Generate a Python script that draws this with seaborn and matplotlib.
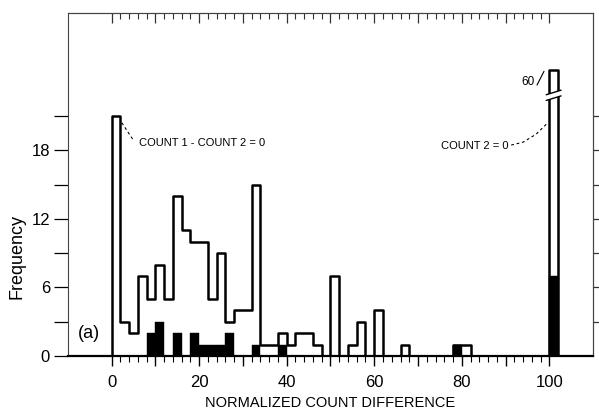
import numpy as np
import pandas as pd
import matplotlib
matplotlib.use("Agg")
import matplotlib.pyplot as plt
from matplotlib.ticker import FixedLocator, FuncFormatter, NullFormatter
import seaborn as sns

# ---------------- data ----------------
bin_width = 2
bin_starts = list(range(0, 102, bin_width))          # left edges 0, 2, ..., 100
all_counts = [21, 3, 2, 7, 5, 8, 5, 14, 11, 10,
              10, 5, 9, 3, 4, 4, 15, 1, 1, 2,
              1, 2, 2, 1, 0, 7, 0, 1, 3, 0,
              4, 0, 0, 1, 0, 0, 0, 0, 0, 1,
              1, 0, 0, 0, 0, 0, 0, 0, 0, 0,
              60]
shaded_counts = [0, 0, 0, 0, 2, 3, 0, 2, 0, 2,
                 1, 1, 1, 2, 0, 0, 1, 0, 0, 1,
                 0, 0, 0, 0, 0, 0, 0, 0, 0, 0,
                 0, 0, 0, 0, 0, 0, 0, 0, 0, 1,
                 0, 0, 0, 0, 0, 0, 0, 0, 0, 0,
                 7]
display_cap = 25            # the 60 bar is drawn broken at this height
x_tick_labels = [0, 20, 40, 60, 80, 100]
y_tick_labels = [0, 6, 12, 18]

# ---------------- style ----------------
sns.set_style("ticks")
plt.rcParams['font.family'] = ['Liberation Sans', 'DejaVu Sans']
for k in ["text.color", "axes.labelcolor", "xtick.color", "ytick.color"]:
    plt.rcParams[k] = "black"

fig = plt.figure(figsize=(5.99, 4.13), dpi=100)
ax = fig.add_axes([0.1135, 0.138, 0.8765, 0.8305])

centers = np.array(bin_starts) + bin_width / 2
edges = bin_starts + [bin_starts[-1] + bin_width]
df = pd.DataFrame({
    "center": centers,
    "total": np.minimum(all_counts, display_cap),
    "shaded": shaded_counts,
})

sns.histplot(data=df, x="center", weights="total", bins=edges,
             element="step", fill=True, facecolor="white", edgecolor="black",
             linewidth=1.8, alpha=1, ax=ax, zorder=2)
sns.histplot(data=df, x="center", weights="shaded", bins=edges,
             element="bars", fill=True, color="black", edgecolor="black",
             linewidth=0.3, alpha=1, shrink=1, ax=ax, zorder=3)

ax.set_xlim(-10, 110)
ax.set_ylim(0, 30)

# break mark on the 100 bar
bx0, bx1 = 99.3, 102.7
ax.fill([bx0, bx1, bx1, bx0], [22.35, 22.75, 23.25, 22.85],
        color="white", zorder=5, lw=0)
ax.plot([bx0, bx1], [22.35, 22.75], color="black", lw=1.0, zorder=6)
ax.plot([bx0, bx1], [22.85, 23.25], color="black", lw=1.0, zorder=6)

# annotations
dash = (0, (2.5, 2.5))
ax.plot([2.3, 4.9], [20.4, 18.9], ls=dash, lw=0.8, color="black", zorder=6)
ax.text(6.3, 18.65, "COUNT 1 - COUNT 2 = 0", fontsize=8, va="center", ha="left")

ax.plot([91.3, 94.0, 97.0, 99.4], [18.45, 18.7, 19.4, 20.3], ls=dash, lw=0.8,
        color="black", zorder=6)
ax.text(90.6, 18.4, "COUNT 2 = 0", fontsize=8, va="center", ha="right")

ax.plot([97.2, 98.8], [23.7, 24.9], lw=0.8, color="black", zorder=6)
ax.text(95.2, 24.0, "60", fontsize=8.5, va="center", ha="center")

ax.text(-5.1, 2.0, "(a)", fontsize=13, va="center", ha="center")

# ---------------- ticks ----------------
ax.xaxis.set_major_locator(FixedLocator(list(range(0, 101, 10))))
ax.xaxis.set_major_formatter(FuncFormatter(
    lambda v, p: f"{int(round(v))}" if int(round(v)) in x_tick_labels else ""))
ax.xaxis.set_minor_locator(FixedLocator(list(range(0, 101, 2))))
ax.tick_params(axis='x', which='major', direction='out', length=7, width=1.0,
               pad=7, labelsize=12, bottom=True, top=False, color="black")
ax.tick_params(axis='x', which='minor', direction='out', length=4, width=0.8,
               bottom=True, top=False, color="black")

ax.yaxis.set_major_locator(FixedLocator(y_tick_labels))
ax.yaxis.set_minor_locator(FixedLocator([3, 9, 15, 21]))
ax.tick_params(axis='y', which='both', direction='out', length=10, width=0.9,
               pad=3, labelsize=12, left=True, right=False, color="black")

sec_top = ax.secondary_xaxis('top')
sec_top.xaxis.set_major_locator(FixedLocator(list(range(0, 101, 10))))
sec_top.xaxis.set_minor_locator(FixedLocator(list(range(0, 101, 2))))
sec_top.xaxis.set_major_formatter(NullFormatter())
sec_top.tick_params(axis='x', which='major', direction='in', length=7, width=0.9, color="#333")
sec_top.tick_params(axis='x', which='minor', direction='in', length=4, width=0.8, color="#333")

sec_right = ax.secondary_yaxis('right')
sec_right.yaxis.set_major_locator(FixedLocator([3, 6, 9, 12, 15, 18, 21]))
sec_right.yaxis.set_major_formatter(NullFormatter())
sec_right.tick_params(axis='y', which='major', direction='out', length=6, width=0.9, color="#333")

for s in ["left", "top", "right"]:
    ax.spines[s].set_linewidth(0.8)
    ax.spines[s].set_color("#444")
ax.spines["bottom"].set_linewidth(1.6)
ax.spines["bottom"].set_color("black")
sec_top.spines["top"].set_linewidth(0.8)
sec_top.spines["top"].set_color("#444")
sec_right.spines["right"].set_linewidth(0.8)
sec_right.spines["right"].set_color("#444")

ax.set_xlabel("NORMALIZED COUNT DIFFERENCE", fontsize=10.5, va="center")
ax.xaxis.set_label_coords(0.5, -0.137)
ax.set_ylabel("Frequency", fontsize=13, va="center", ha="center")
ax.yaxis.set_label_coords(-0.097, 0.29)

fig.savefig("out.png", dpi=100)
